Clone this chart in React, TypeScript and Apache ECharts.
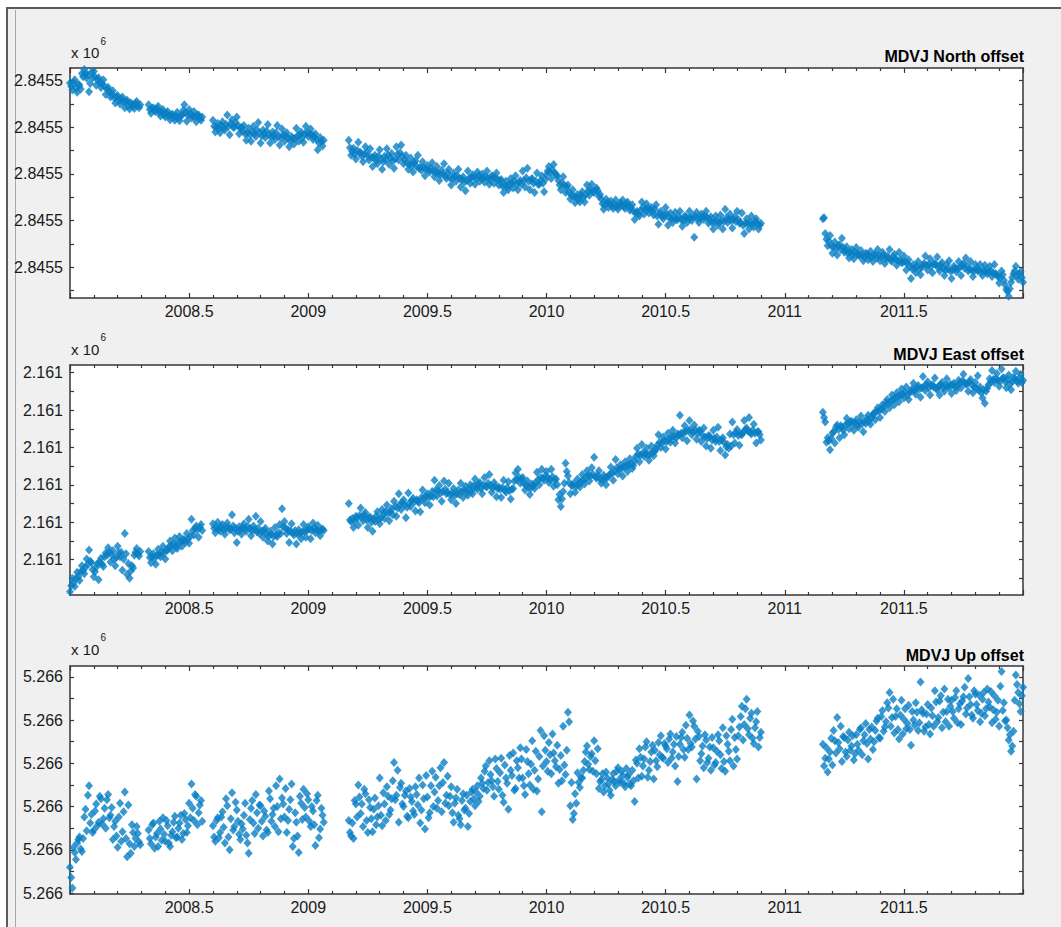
import React, { useEffect, useRef } from 'react';
import * as echarts from 'echarts';

// sample spacing (years) inside each continuous segment of the GPS record
const SAMPLE_STEP = 0.01;
const segmentStarts = [2008.0, 2008.33, 2008.6, 2009.17, 2011.16];
// second reading pass sits half a step later
const HALF_STEP = 0.005;

// ---- North offset (axis units, 10 units per labelled tick) ----
const north1 = [
  39.5, 38.0, 40.2, 37.5, 39.0, 41.5, 42.4, 40.5, 37.6, 41.8,
  42.0, 39.0, 40.6, 38.5, 40.2, 37.0, 38.6, 36.5, 37.8, 35.2,
  36.8, 35.0, 36.5, 34.2, 35.8, 33.9, 35.0, 34.0, 35.5, 34.2,
];
const north2 = [
  34.8, 33.0, 34.2, 33.3, 34.5, 32.4, 33.8,
  32.2, 33.4, 31.6, 32.8, 31.5, 33.2, 31.4, 32.6, 34.8, 31.3,
  33.8, 32.0, 33.4, 31.2, 32.6, 31.5,
];
const north3 = [
  31.5, 29.0, 30.8, 28.8, 31.2, 29.4, 32.6, 28.4, 31.6, 30.0,
  32.2, 28.6, 30.0, 30.4, 27.2, 29.8, 27.0, 30.2, 28.0, 31.0,
  26.6, 29.4, 27.8, 30.6, 26.6, 29.0, 27.4, 30.4, 26.2, 29.6,
  27.0, 28.8, 25.8, 28.0, 26.4, 29.8, 27.0, 29.0, 26.8, 30.2,
  28.0, 29.6, 27.4, 28.6, 25.2, 27.8, 26.0,
];
const north4 = [
  27.2, 24.0, 25.5,
  23.2, 26.8, 24.6, 22.6, 25.8, 23.8, 25.4, 21.6, 24.0, 22.2,
  25.2, 21.0, 23.8, 25.4, 22.0, 24.4, 21.2, 25.8, 23.0, 26.2,
  22.2, 24.0, 21.0, 23.4, 20.4, 22.8, 24.0, 21.4, 22.6, 19.6,
  21.8, 20.4, 22.4, 19.4, 21.6, 18.6, 20.8, 22.2, 19.0, 21.0,
  17.6, 20.2, 18.4, 21.0, 17.2, 19.4, 16.4, 20.6, 18.0, 19.8,
  17.8, 20.4, 18.4, 20.0, 18.2, 20.6, 17.8, 19.6, 18.0, 20.2,
  17.6, 18.8, 16.0, 18.4, 16.6, 19.0, 17.0, 19.6, 16.6, 18.6,
  20.6, 17.2, 21.2, 16.6, 19.0, 16.0, 20.2, 17.8, 19.6, 16.2,
  19.8, 21.6, 19.0, 22.0, 19.8, 18.6, 16.6, 19.4, 16.0, 17.6,
  14.6, 16.6, 13.8, 15.6, 14.0, 16.2, 14.0, 17.6, 15.4, 17.8,
  16.0, 17.0, 15.2, 14.6, 12.4, 14.6, 12.8, 14.2, 12.6, 14.4,
  12.4, 13.8, 14.4, 12.6, 14.0, 12.2, 13.4, 10.2, 12.0, 11.0,
  14.0, 11.4, 13.6, 11.6, 12.8, 11.2, 13.4, 9.2, 12.0, 10.4,
  12.8, 9.0, 11.6, 9.6, 11.8, 10.2, 12.0, 8.8, 11.0, 9.6,
  12.0, 10.0, 6.4, 11.8, 9.6, 11.4, 10.2, 12.0, 9.4, 10.8,
  8.2, 11.0, 9.0, 11.2, 8.2, 12.4, 9.6, 11.4, 8.4, 10.8,
  12.0, 9.4, 11.6, 7.2, 10.4, 8.2, 11.0, 8.6, 10.4, 8.2,
  9.4,
];
const north5 = [
  10.4, 7.2, 4.6, 6.8,
  3.0, 5.4, 2.6, 4.8, 6.2, 3.2, 4.4, 2.0, 3.8, 1.8,
  4.2, 2.6, 3.6, 1.4, 3.0, 1.6, 3.4, 1.2, 2.8, 3.8,
  1.4, 3.2, 0.8, 2.4, 3.8, 1.2, 2.8, 0.4, 3.2, 1.0,
  2.4, -0.6, 1.6, -2.4, 0.6, -1.2, 1.2, -1.6, 0.4, 2.4,
  -0.6, 1.8, -1.2, 0.8, 2.2, -0.8, 1.0, -1.8, 0.6, 1.4,
  -2.4, 0.2, -1.0, 1.2, -1.8, 0.8, 2.0, -0.8, 1.2, -2.0,
  0.6, -0.8, 0.6, -1.8, 0.4, -1.4, 0.2, -2.0, 0.6, -1.6,
  -3.4, -0.8, -2.8, -4.8, -6.2, -3.2, -1.4, 0.2, -2.6, -1.0,
  -3.2,
];
// second pass (half a step later)
const north1b = [
  38.8, 39.6, 38.4, 39.2, 38.2, 40.8, 41.6, 41.2, 39.4, 40.6,
  40.8, 40.2, 39.6, 39.4, 38.8, 38.2, 37.6, 37.2, 36.4, 36.6,
  35.8, 36.0, 35.4, 35.6, 34.6, 35.2, 34.6, 35.2, 34.6, 34.8,
];
const north2b = [
  33.8, 34.0, 33.6, 34.0, 33.2, 33.4, 32.8,
  33.0, 32.4, 32.6, 32.2, 32.4, 32.0, 32.4, 33.6, 33.2, 32.6,
  32.8, 32.4, 32.2, 32.6, 32.0, 32.2,
];
const north3b = [
  30.2, 30.0, 29.8, 30.4, 29.8, 30.6, 30.2, 30.8, 30.0, 31.0,
  30.4, 29.8, 29.2, 28.6, 28.8, 28.4, 29.0, 28.6, 29.4, 28.8,
  28.2, 28.6, 29.2, 28.4, 28.0, 28.2, 28.8, 28.0, 27.8, 28.4,
  28.2, 27.6, 27.2, 27.6, 27.6, 28.2, 28.4, 27.8, 28.6, 28.8,
  28.6, 28.4, 28.0, 27.4, 26.6, 27.0, 27.2,
];
const north4b = [
  25.6, 24.8, 24.2,
  25.0, 24.6, 23.8, 24.2, 24.6, 23.0, 23.6, 23.4, 22.8, 23.8,
  23.2, 22.6, 23.0, 24.0, 23.4, 22.8, 23.2, 24.2, 24.6, 23.8,
  23.0, 22.4, 22.0, 21.8, 22.4, 21.6, 21.2, 20.8, 21.4, 21.0,
  20.8, 21.2, 20.6, 20.4, 20.2, 19.8, 20.0, 19.6, 20.2, 19.2,
  19.0, 19.4, 19.6, 19.0, 18.8, 18.2, 18.6, 19.0, 19.2, 19.4,
  19.0, 19.6, 19.2, 19.2, 19.4, 19.0, 18.8, 19.4, 19.2, 18.8,
  18.6, 17.4, 17.6, 17.2, 17.8, 18.0, 18.4, 17.8, 18.2, 17.8,
  18.6, 19.2, 18.4, 18.8, 18.0, 18.4, 17.8, 18.6, 18.0, 18.8,
  20.6, 20.4, 20.8, 20.2, 19.6, 17.6, 18.0, 17.6, 17.2, 16.0,
  15.4, 15.2, 15.0, 14.6, 15.4, 15.0, 15.6, 16.4, 16.6, 16.2,
  16.6, 16.4, 15.6, 13.6, 13.4, 13.8, 13.6, 13.2, 13.4, 13.0,
  13.2, 13.4, 13.0, 13.6, 13.2, 12.8, 12.0, 11.6, 11.4, 12.2,
  12.8, 12.4, 12.6, 12.4, 12.0, 12.4, 11.0, 11.4, 11.0, 11.2,
  11.4, 10.6, 10.4, 10.6, 10.2, 10.8, 10.2, 10.0, 10.8, 10.4,
  10.6, 11.0, 10.8, 10.4, 10.6, 10.8, 11.0, 10.6, 10.2, 9.6,
  9.8, 10.0, 9.6, 10.0, 9.8, 10.6, 10.4, 10.0, 10.2, 9.8,
  10.2, 9.6, 9.0, 9.4, 9.4, 9.6, 9.2, 9.8, 9.4, 9.0,
];
const north5b = [
  10.6, 6.0, 5.6, 4.6,
  4.4, 4.0, 4.6, 3.8, 4.2, 3.6, 3.0, 3.2, 2.8, 3.2,
  2.8, 2.4, 2.6, 2.2, 2.8, 2.4, 2.2, 2.6, 2.0, 2.4,
  2.2, 2.6, 1.8, 2.0, 1.6, 2.2, 1.8, 1.4, 1.6, 1.0,
  1.2, 0.8, 0.2, -0.4, -0.2, 0.2, -0.4, 0.0, 0.8, 0.4,
  0.6, 0.2, 0.8, 0.4, 0.0, 0.4, -0.2, -0.6, -0.4, -0.8,
  -0.6, -0.2, -0.4, 0.0, 0.4, -0.2, 0.2, -0.4, -0.6, -0.8,
  -0.4, -0.6, -1.0, -0.6, -0.8, -1.0, -0.8, -1.2, -1.4, -2.0,
  -2.2, -1.6, -3.8, -5.2, -4.6, -2.2, -0.8, -1.8, -1.4, -2.2,
];

// ---- East offset ----
const east1 = [
  -8.6, -5.0, -7.2, -3.4, -5.6, -1.6, -3.8, 0.2, 2.6, -0.8,
  -4.6, -2.0, -5.4, 0.4, -1.8, 1.8, 3.2, -0.6, 2.4, -1.6,
  3.6, 0.8, -2.8, 7.0, -4.0, -5.0, -1.6, 1.2, 3.0, 1.0,
];
const east2 = [
  2.2, -0.8, 1.6, -1.2, 2.8, 0.8, 3.6,
  0.2, 2.6, 5.0, 2.4, 5.8, 3.0, 6.2, 3.6, 5.2, 7.0,
  4.4, 10.8, 6.6, 9.0, 6.0, 9.4,
];
const east3 = [
  9.6, 7.2, 10.0, 7.6, 9.4, 6.8, 9.8, 8.0, 12.0, 7.2,
  4.6, 8.8, 6.8, 9.6, 7.6, 10.8, 6.4, 9.0, 11.6, 8.4,
  10.2, 6.0, 8.4, 5.0, 7.6, 4.2, 8.6, 6.2, 9.4, 13.6,
  10.2, 7.0, 4.6, 9.6, 6.6, 4.2, 8.0, 5.6, 9.4, 6.0,
  8.8, 5.6, 9.8, 7.2, 9.2, 6.4, 8.2,
];
const east4 = [
  15.0, 10.2, 8.6,
  11.6, 9.2, 13.8, 10.4, 12.6, 8.6, 11.4, 7.6, 10.2, 12.8,
  9.6, 13.4, 11.0, 14.6, 10.4, 13.6, 15.6, 11.6, 17.6, 13.4,
  16.0, 11.2, 17.8, 14.2, 16.4, 13.0, 15.6, 12.8, 18.6, 15.2,
  17.6, 14.6, 18.2, 21.2, 17.0, 19.8, 15.6, 21.0, 17.6, 20.4,
  16.0, 19.0, 15.0, 18.6, 20.4, 16.6, 19.6, 17.2, 20.0, 17.6,
  21.6, 18.8, 20.6, 17.6, 22.0, 19.4, 22.8, 18.0, 20.6, 16.8,
  19.4, 16.6, 21.2, 18.0, 20.8, 16.2, 19.0, 23.2, 24.2, 20.4,
  22.0, 18.6, 21.0, 17.4, 20.2, 19.0, 23.4, 20.0, 24.2, 21.2,
  23.6, 20.6, 24.2, 19.6, 21.6, 16.0, 14.2, 18.2, 25.8, 22.4,
  17.6, 19.8, 18.0, 21.6, 19.4, 22.8, 20.2, 23.8, 21.0, 24.6,
  27.4, 21.8, 23.8, 20.4, 22.6, 20.0, 22.4, 24.8, 21.2, 26.8,
  23.0, 25.4, 22.4, 26.2, 23.6, 27.0, 24.4, 26.4, 29.8, 26.2,
  30.8, 27.6, 29.8, 26.6, 30.4, 27.8, 29.6, 33.4, 30.0, 32.8,
  29.6, 33.8, 31.4, 34.6, 31.2, 33.6, 38.6, 32.6, 35.8, 31.8,
  37.2, 33.4, 36.0, 32.2, 34.6, 31.6, 35.2, 30.4, 33.2, 29.8,
  34.6, 31.6, 35.4, 29.2, 32.6, 28.0, 30.8, 33.6, 36.8, 31.2,
  34.8, 30.6, 33.4, 37.2, 35.2, 38.0, 33.6, 36.2, 31.2, 34.2,
  32.0,
];
const east5 = [
  39.4, 36.8, 32.6, 29.4,
  33.8, 31.2, 36.0, 32.6, 35.4, 33.4, 37.8, 35.0, 37.0, 34.6,
  37.4, 35.4, 38.4, 34.2, 36.4, 38.6, 36.2, 38.8, 37.4, 40.6,
  38.0, 41.4, 39.6, 42.8, 40.6, 44.0, 41.4, 44.6, 42.2, 45.6,
  43.2, 46.2, 42.8, 45.0, 47.2, 44.2, 46.6, 43.4, 49.0, 45.2,
  47.6, 44.0, 46.8, 48.6, 45.4, 44.0, 47.4, 45.0, 48.4, 46.0,
  44.4, 47.2, 45.2, 48.0, 46.0, 49.6, 47.0, 45.0, 48.2, 44.6,
  47.4, 49.2, 46.2, 43.2, 41.8, 45.8, 48.4, 50.6, 47.4, 49.8,
  46.4, 51.0, 48.6, 46.0, 49.4, 45.4, 48.8, 50.4, 47.2, 49.6,
  48.0,
];
const east1b = [
  -7.0, -6.2, -5.0, -4.6, -3.2, -2.8, -2.0, -1.2, -0.4, -2.6,
  -3.2, -1.0, -0.6, -1.2, 0.8, 1.2, 2.0, 1.4, 0.2, 0.6,
  1.8, 2.0, 0.2, 1.6, -1.0, -3.0, -2.2, 2.0, 1.6, 2.2,
];
const east2b = [
  0.6, 0.8, 0.4, 1.2, 1.4, 2.0, 1.8,
  2.6, 3.4, 3.8, 4.2, 3.6, 4.6, 4.8, 5.4, 4.6, 5.6,
  6.2, 7.8, 8.4, 8.0, 8.6, 7.8,
];
const east3b = [
  8.4, 8.6, 8.2, 8.8, 8.0, 8.4, 8.6, 8.2, 9.0, 8.4,
  7.6, 8.0, 8.6, 8.2, 8.8, 8.4, 7.8, 8.0, 7.4, 7.0,
  7.6, 7.8, 6.8, 6.4, 6.8, 6.2, 6.6, 7.2, 7.0, 8.8,
  8.4, 8.0, 7.6, 7.2, 7.8, 6.8, 7.0, 7.4, 7.6, 7.8,
  8.2, 7.8, 8.4, 8.0, 7.6, 8.0, 7.8,
];
const east4b = [
  10.6, 11.0, 10.4,
  11.2, 11.8, 11.4, 12.0, 10.6, 11.2, 10.0, 10.8, 11.6, 10.8,
  11.2, 12.2, 12.8, 12.4, 12.8, 12.0, 14.2, 13.8, 14.8, 15.2,
  14.6, 14.0, 15.2, 15.8, 15.4, 16.0, 15.2, 16.6, 16.4, 17.0,
  16.6, 17.0, 16.8, 18.6, 18.4, 17.8, 18.2, 18.8, 18.0, 17.4,
  17.8, 17.2, 17.6, 17.4, 18.2, 18.6, 18.0, 18.8, 18.4, 19.8,
  19.4, 20.2, 19.0, 19.8, 19.6, 20.4, 19.8, 19.2, 19.6, 19.0,
  18.8, 19.2, 18.6, 19.2, 18.4, 18.8, 21.0, 21.4, 22.0, 21.6,
  20.4, 19.8, 19.4, 19.2, 19.8, 20.6, 21.4, 22.0, 21.8, 22.4,
  22.0, 21.4, 22.2, 21.4, 20.0, 17.4, 16.2, 20.4, 23.6, 20.6,
  19.8, 20.4, 19.6, 20.2, 20.8, 21.2, 22.0, 22.6, 22.4, 22.8,
  22.2, 22.6, 21.6, 21.4, 21.8, 22.0, 22.8, 23.2, 23.6, 24.6,
  24.2, 24.4, 24.8, 25.0, 25.4, 25.6, 25.2, 27.6, 28.2, 28.0,
  28.6, 28.4, 28.0, 28.2, 28.8, 29.0, 30.6, 31.4, 31.2, 31.8,
  31.6, 32.2, 32.8, 33.0, 32.6, 33.4, 33.8, 34.0, 34.2, 34.6,
  34.8, 34.2, 34.6, 33.8, 34.4, 33.2, 32.8, 32.4, 33.0, 32.0,
  32.4, 32.8, 31.6, 32.0, 31.4, 30.2, 29.8, 30.4, 33.4, 34.0,
  33.2, 33.6, 34.0, 34.8, 34.4, 34.0, 34.6, 33.8, 34.2, 33.4,
];
const east5b = [
  38.0, 31.4, 31.8, 32.4,
  34.2, 35.4, 34.8, 35.8, 34.6, 36.0, 36.4, 36.8, 36.2, 36.6,
  36.0, 36.8, 36.4, 37.0, 37.6, 37.2, 38.0, 39.2, 39.6, 39.8,
  40.2, 40.8, 42.0, 41.8, 42.4, 42.8, 43.2, 43.6, 44.0, 44.2,
  44.6, 44.0, 44.8, 45.6, 45.2, 46.0, 45.6, 46.0, 46.4, 46.8,
  46.0, 46.6, 46.2, 45.8, 46.4, 46.8, 46.0, 46.6, 46.4, 47.0,
  46.8, 46.2, 46.6, 47.2, 47.8, 47.4, 47.0, 47.6, 46.8, 46.2,
  45.8, 45.2, 44.6, 45.4, 45.0, 46.8, 47.4, 48.2, 48.4, 48.0,
  47.8, 48.6, 47.6, 48.2, 47.0, 47.6, 48.4, 47.8, 48.6, 47.4,
];

// ---- Up offset ----
const up1 = [
  6.0, 1.2, 9.4, 11.6, 13.0, 9.6, 17.6, 14.4, 24.8, 18.2,
  14.6, 20.6, 16.4, 21.8, 17.2, 15.0, 22.8, 18.0, 12.4, 16.6,
  10.6, 20.8, 14.2, 23.4, 8.4, 11.4, 15.8, 10.8, 15.4, 11.8,
];
const up2 = [
  14.6, 11.4, 16.2, 13.0, 10.8, 14.8, 17.4,
  12.0, 15.6, 10.8, 14.2, 17.8, 13.0, 16.2, 12.4, 18.4, 14.0,
  20.8, 25.2, 16.8, 22.4, 18.6, 21.4,
];
const up3 = [
  15.6, 12.0, 17.4, 14.0, 18.8, 11.6, 20.2, 10.0, 23.2, 15.4,
  19.2, 13.6, 16.0, 18.0, 13.4, 9.2, 19.6, 16.2, 22.8, 15.0,
  20.2, 13.2, 17.8, 14.0, 21.8, 18.2, 15.4, 20.0, 26.4, 22.0,
  17.6, 14.0, 19.4, 25.2, 12.6, 16.4, 9.4, 20.8, 24.0, 17.6,
  21.6, 15.4, 19.0, 11.0, 22.6, 14.8, 18.0,
];
const up4 = [
  16.8, 13.2, 12.6,
  20.6, 25.0, 18.4, 15.4, 23.0, 14.0, 19.8, 14.2, 22.0, 17.6,
  26.6, 15.6, 20.6, 24.6, 18.2, 21.8, 30.2, 22.6, 16.4, 25.4,
  20.0, 23.6, 17.4, 22.2, 19.0, 24.6, 20.4, 16.2, 25.0, 14.8,
  22.2, 18.6, 28.2, 23.4, 19.6, 24.8, 18.8, 30.2, 22.6, 20.2,
  24.6, 16.4, 22.0, 18.0, 15.8, 23.0, 19.6, 15.4, 21.2, 24.0,
  20.2, 24.8, 22.4, 25.4, 28.2, 23.8, 30.6, 26.0, 22.4, 28.8,
  24.0, 31.2, 21.0, 26.6, 19.4, 28.4, 32.4, 24.2, 29.0, 33.6,
  26.6, 22.8, 30.4, 25.0, 35.2, 28.4, 23.6, 31.6, 18.8, 36.4,
  30.4, 34.8, 27.6, 32.4, 29.2, 25.4, 31.8, 38.6, 27.4, 41.8,
  20.2, 17.0, 23.0, 27.8, 24.4, 26.6, 30.4, 34.0, 28.6, 32.2,
  35.2, 27.6, 24.2, 26.2, 23.4, 28.0, 25.2, 22.6, 27.6, 24.8,
  29.0, 25.6, 27.2, 24.6, 26.8, 25.2, 28.4, 21.2, 30.0, 33.4,
  27.0, 31.0, 35.0, 28.4, 32.6, 26.4, 30.6, 34.8, 36.4, 31.2,
  34.0, 30.2, 36.8, 32.6, 29.4, 25.8, 34.4, 37.2, 31.4, 35.8,
  41.2, 33.8, 38.6, 26.4, 36.2, 32.2, 29.0, 35.4, 31.2, 28.4,
  33.6, 30.2, 36.6, 32.0, 38.2, 28.2, 34.4, 30.6, 40.2, 36.0,
  31.0, 38.4, 43.2, 39.0, 44.8, 36.6, 41.6, 34.6, 39.6, 33.8,
  37.2,
];
const up5 = [
  34.4, 31.2, 28.0, 32.6,
  29.6, 35.2, 40.6, 33.4, 30.4, 36.0, 31.6, 37.2, 34.0, 30.8,
  36.6, 33.0, 38.2, 35.2, 39.2, 31.0, 35.6, 33.2, 37.6, 40.4,
  35.8, 42.2, 38.4, 44.0, 46.4, 40.6, 37.0, 42.6, 35.6, 44.6,
  40.2, 38.0, 43.4, 34.2, 40.0, 44.0, 37.6, 48.8, 41.6, 38.4,
  43.6, 36.8, 41.0, 46.8, 39.6, 44.4, 38.2, 47.2, 42.0, 38.6,
  44.6, 40.4, 46.8, 42.6, 39.0, 45.4, 41.4, 49.6, 43.6, 40.4,
  46.0, 42.2, 39.6, 44.8, 41.0, 47.2, 43.0, 39.4, 45.6, 41.8,
  38.6, 51.2, 44.0, 40.0, 35.4, 32.8, 37.4, 50.4, 46.4, 42.0,
  47.6,
];
const up1b = [
  3.6, 10.6, 7.8, 12.4, 10.2, 12.6, 19.4, 22.6, 16.2, 14.0,
  19.0, 15.6, 22.4, 16.0, 19.6, 21.6, 17.4, 19.8, 15.4, 13.2,
  17.6, 12.0, 18.8, 12.6, 20.4, 9.2, 14.0, 12.6, 13.8, 11.2,
];
const up2b = [
  12.6, 15.8, 10.4, 13.8, 16.6, 12.2, 13.6,
  16.8, 11.6, 13.4, 16.4, 12.8, 15.0, 18.0, 13.8, 17.0, 15.6,
  17.4, 19.6, 22.8, 15.8, 20.4, 16.6,
];
const up3b = [
  13.0, 16.8, 12.8, 17.6, 15.2, 21.8, 13.0, 17.2, 14.6, 21.0,
  16.6, 12.4, 14.8, 20.8, 11.6, 17.0, 21.4, 13.8, 18.6, 20.4,
  16.6, 19.0, 14.6, 23.6, 16.6, 19.6, 24.8, 14.2, 17.2, 20.6,
  24.2, 16.8, 21.6, 10.8, 18.6, 13.2, 22.4, 17.0, 19.8, 23.0,
  16.6, 20.0, 15.8, 21.4, 12.8, 19.6, 16.4,
];
const up4b = [
  14.0, 16.2, 21.4,
  17.6, 22.2, 20.6, 24.0, 16.8, 21.6, 17.2, 19.4, 15.8, 20.2,
  18.0, 23.2, 16.8, 22.4, 19.2, 26.0, 21.6, 28.4, 24.4, 20.6,
  22.6, 17.8, 24.2, 21.2, 18.2, 22.8, 26.6, 19.2, 21.8, 27.2,
  17.4, 24.8, 20.0, 26.8, 21.4, 29.0, 25.6, 20.8, 27.0, 22.4,
  18.6, 20.8, 24.0, 17.2, 21.4, 19.2, 22.6, 18.4, 23.4, 21.8,
  23.4, 21.2, 26.6, 24.2, 29.4, 25.6, 27.4, 24.6, 31.0, 25.8,
  27.8, 22.6, 29.6, 25.4, 31.8, 27.2, 23.8, 30.6, 26.6, 31.0,
  24.8, 33.2, 27.6, 29.8, 24.0, 32.8, 26.4, 37.6, 29.4, 33.0,
  28.2, 32.0, 36.8, 30.6, 34.2, 28.6, 26.0, 29.6, 33.0, 39.6,
  25.6, 18.4, 20.8, 25.6, 26.8, 28.4, 32.6, 29.8, 31.6, 28.2,
  30.6, 33.4, 25.8, 27.6, 24.8, 26.6, 23.8, 26.2, 25.8, 28.2,
  26.2, 28.2, 25.4, 28.8, 27.4, 24.8, 26.0, 30.8, 26.6, 31.4,
  29.4, 33.8, 26.8, 30.4, 34.2, 33.0, 29.2, 32.0, 31.4, 34.6,
  33.4, 35.6, 31.2, 34.4, 36.2, 31.6, 36.0, 33.2, 38.8, 33.2,
  34.6, 39.8, 35.6, 37.4, 30.6, 34.0, 36.6, 30.2, 33.8, 36.0,
  29.6, 32.8, 35.2, 28.8, 30.4, 36.4, 32.8, 37.8, 29.4, 33.2,
  36.4, 40.8, 35.4, 42.6, 38.0, 40.4, 35.8, 38.2, 42.0, 36.0,
];
const up5b = [
  29.4, 33.6, 31.0, 35.8,
  37.6, 32.4, 34.8, 38.6, 36.2, 32.6, 35.4, 33.0, 36.4, 32.2,
  34.4, 37.8, 32.0, 36.6, 34.6, 37.8, 38.4, 35.0, 39.8, 36.0,
  40.8, 37.4, 39.6, 42.8, 38.6, 44.8, 40.8, 37.8, 41.2, 36.8,
  42.6, 39.2, 37.8, 42.0, 38.8, 41.8, 39.4, 42.4, 37.4, 41.4,
  39.0, 42.8, 38.6, 44.2, 40.6, 45.6, 41.8, 39.6, 44.8, 43.2,
  42.0, 45.2, 39.4, 43.8, 44.4, 47.6, 42.8, 45.4, 41.2, 46.8,
  43.6, 45.8, 41.6, 46.4, 42.6, 44.2, 46.6, 42.4, 40.2, 44.6,
  47.8, 42.2, 39.8, 38.2, 36.6, 34.0, 44.6, 48.2, 43.8, 45.6,
];

// ---- ticks ----
const xTickValues = [2008.5, 2009, 2009.5, 2010, 2010.5, 2011, 2011.5];
const xTickLabels = ['2008.5', '2009', '2009.5', '2010', '2010.5', '2011', '2011.5'];

const northTickValues = [0, 10, 20, 30, 40];
const northTickLabels = ['2.8455', '2.8455', '2.8455', '2.8455', '2.8455'];
const northMinorTicks = [-5, 5, 15, 25, 35];

const eastTickValues = [0, 10, 20, 30, 40, 50];
const eastTickLabels = ['2.161', '2.161', '2.161', '2.161', '2.161', '2.161'];
const eastMinorTicks = [-5, 5, 15, 25, 35, 45];

const upTickValues = [0, 10, 20, 30, 40, 50];
const upTickLabels = ['5.266', '5.266', '5.266', '5.266', '5.266', '5.266'];
const upMinorTicks = [5, 15, 25, 35, 45];

const titles = ['MDVJ North offset', 'MDVJ East offset', 'MDVJ Up offset'];

const FONT = "'Liberation Sans', Arial, Helvetica, sans-serif";
const MARKER = '#087ec3';
const AXIS = '#363636';
const TEXT = '#1a1a1a';

function buildPoints(segments: number[][], offset: number) {
  const pts: number[][] = [];
  segments.forEach((seg, k) => {
    seg.forEach((v, i) => pts.push([segmentStarts[k] + offset + i * SAMPLE_STEP, v]));
  });
  return pts;
}

const panels = [
  {
    top: 68, height: 230, yMin: -6.6, yMax: 42.7,
    ticks: northTickValues, labels: northTickLabels, minor: northMinorTicks,
    data: [north1, north2, north3, north4, north5],
    dataB: [north1b, north2b, north3b, north4b, north5b],
    title: titles[0], titleY: 56.5, expY: 52.5, supY: 41,
  },
  {
    top: 365, height: 230, yMin: -9.45, yMax: 52.05,
    ticks: eastTickValues, labels: eastTickLabels, minor: eastMinorTicks,
    data: [east1, east2, east3, east4, east5],
    dataB: [east1b, east2b, east3b, east4b, east5b],
    title: titles[1], titleY: 354, expY: 349, supY: 337.5,
  },
  {
    top: 666, height: 228, yMin: -0.2, yMax: 52.5,
    ticks: upTickValues, labels: upTickLabels, minor: upMinorTicks,
    data: [up1, up2, up3, up4, up5],
    dataB: [up1b, up2b, up3b, up4b, up5b],
    title: titles[2], titleY: 655, expY: 649, supY: 637.5,
  },
];

const LEFT = 70;
const WIDTH = 953;

export default function App() {
  const ref = useRef<HTMLDivElement>(null);
  useEffect(() => {
    if (!ref.current) return;
    const chart = echarts.init(ref.current, undefined, { renderer: 'svg' });

    const grid: any[] = [];
    const xAxis: any[] = [];
    const yAxis: any[] = [];
    const series: any[] = [];
    const graphic: any[] = [
      {
        type: 'rect', z: -10, silent: true,
        shape: { x: 7, y: 8, width: 1070, height: 940 },
        style: { fill: '#f0f0f0', stroke: '#5a5a5a', lineWidth: 2 },
      },
      {
        type: 'line', z: -9, silent: true,
        shape: { x1: 15.5, y1: 10, x2: 15.5, y2: 927 },
        style: { stroke: '#a8a8a8', lineWidth: 1 },
      },
    ];

    panels.forEach((p, i) => {
      grid.push({
        left: LEFT, top: p.top, width: WIDTH, height: p.height,
        show: true, backgroundColor: '#ffffff', borderWidth: 0,
      });
      const xCommon = {
        type: 'value', gridIndex: i, min: 2008, max: 2012, interval: 0.5,
        splitLine: { show: false },
        axisLine: { show: true, onZero: false, lineStyle: { color: AXIS, width: 1.5 } },
        axisTick: { show: true, inside: true, length: 5, lineStyle: { color: AXIS, width: 1.2 } },
        minorTick: { show: true, splitNumber: 5, length: 3, lineStyle: { color: AXIS, width: 1.2 } },
      };
      xAxis.push({
        ...xCommon, position: 'bottom',
        axisLabel: {
          show: true, margin: 5, fontSize: 16, fontFamily: FONT, color: TEXT,
          showMinLabel: false, showMaxLabel: false,
          formatter: (v: number) => {
            const k = xTickValues.findIndex((t) => Math.abs(t - v) < 1e-6);
            return k >= 0 ? xTickLabels[k] : '';
          },
        },
      });
      xAxis.push({ ...xCommon, position: 'top', axisLabel: { show: false } });

      const allTicks = [...p.ticks, ...p.minor];
      const yCommon = {
        type: 'value', gridIndex: i, min: p.yMin, max: p.yMax,
        splitLine: { show: false },
        axisLine: { show: true, onZero: false, lineStyle: { color: AXIS, width: 1.5 } },
        axisTick: { show: true, inside: true, length: 4, customValues: allTicks, lineStyle: { color: AXIS, width: 1.2 } },
      };
      yAxis.push({
        ...yCommon, position: 'left',
        axisLabel: {
          show: true, margin: 7, fontSize: 16, fontFamily: FONT, color: TEXT,
          customValues: p.ticks,
          formatter: (v: number) => {
            const k = p.ticks.findIndex((t) => Math.abs(t - v) < 1e-6);
            return k >= 0 ? p.labels[k] : '';
          },
        },
      });
      yAxis.push({ ...yCommon, position: 'right', axisLabel: { show: false } });

      const points = buildPoints(p.data, 0).concat(buildPoints(p.dataB, HALF_STEP));
      series.push({
        type: 'scatter',
        xAxisIndex: i * 2, yAxisIndex: i * 2,
        symbol: 'diamond', symbolSize: [8, 9],
        itemStyle: { color: MARKER },
        data: points,
        clip: false,
        silent: true,
      });

      graphic.push({
        type: 'text', silent: true, x: 1024, y: p.titleY,
        style: {
          text: p.title, fill: '#000', fontFamily: FONT, fontWeight: 'bold', fontSize: 16,
          textAlign: 'right', textVerticalAlign: 'middle',
        },
      });
      graphic.push({
        type: 'text', silent: true, x: 71, y: p.expY,
        style: { text: 'x 10', fill: TEXT, fontFamily: FONT, fontSize: 15, textAlign: 'left', textVerticalAlign: 'middle' },
      });
      graphic.push({
        type: 'text', silent: true, x: 100.5, y: p.supY,
        style: { text: '6', fill: TEXT, fontFamily: FONT, fontSize: 10, textAlign: 'left', textVerticalAlign: 'middle' },
      });
    });

    chart.setOption({
      animation: false,
      backgroundColor: '#ffffff',
      grid, xAxis, yAxis, series, graphic,
    });
    return () => chart.dispose();
  }, []);
  return <div ref={ref} style={{ position: 'fixed', left: 0, top: 0, width: 1061, height: 927 }} />;
}
